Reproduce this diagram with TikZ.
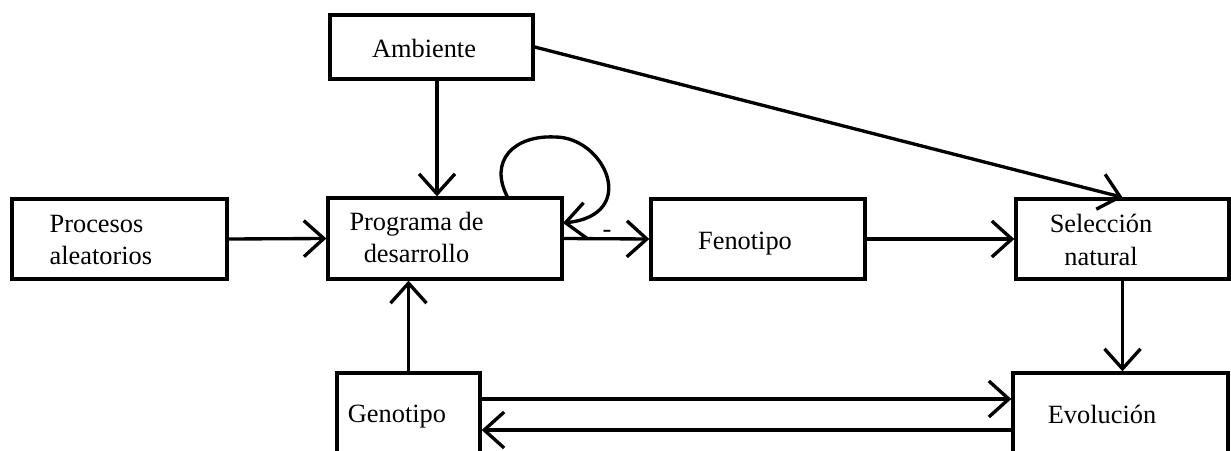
\documentclass[tikz,border=0pt]{standalone}
\usepackage{fontspec}
\setmainfont{Liberation Serif}
\usetikzlibrary{arrows.meta}
\begin{document}
\begin{tikzpicture}[line width=1.9pt,
    box/.style={draw, inner sep=0pt},
    txt/.style={font=\fontsize{15}{18.5}\selectfont, inner sep=0pt},
    arr/.style={-{Straight Barb[length=0.4cm,width=0.72cm]}}]
    \useasboundingbox (0,0) rectangle (24.62,9);
        \node[box, minimum width=4.06cm, minimum height=1.28cm] (amb) at (8.63,8.06) {};
        \node[box, minimum width=4.30cm, minimum height=1.60cm] (proc) at (2.39,4.22) {};
        \node[box, minimum width=4.68cm, minimum height=1.62cm] (prog) at (8.90,4.23) {};
        \node[box, minimum width=4.28cm, minimum height=1.60cm] (fen) at (15.16,4.22) {};
        \node[box, minimum width=4.26cm, minimum height=1.60cm] (sel) at (22.45,4.22) {};
        \node[box, minimum width=2.86cm, minimum height=1.68cm] (gen) at (8.17,0.70) {};
        \node[box, minimum width=4.30cm, minimum height=1.68cm] (evo) at (22.41,0.70) {};
        \node[txt] (t-amb) at (8.48,8.04) {Ambiente};
        \node[txt, anchor=west, align=left] (t-proc) at (0.96,4.20) {Procesos\\aleatorios};
        \node[txt, align=center] (t-prog) at (8.33,4.25) {Programa de\\desarrollo};
        \node[txt] (t-fen) at (14.90,4.12) {Fenotipo};
        \node[txt, align=center] (t-sel) at (22.02,4.20) {Selección\\natural};
        \node[txt] (t-gen) at (7.94,0.66) {Genotipo};
        \node[txt] (t-evo) at (22.04,0.72) {Evolución};
        \node[txt] (dash) at (12.14,4.32) {-};
        \draw[arr] ([xshift=0.11cm]amb.south) -- ([xshift=0.11cm]amb.south |- prog.north);
        \draw[arr] (amb.east) -- (sel.north);
        \draw[arr] (proc.east) -- (prog.west);
        \draw[arr] (prog.east) -- (fen.west);
        \draw[arr] (fen.east) -- (sel.west);
        \draw[arr] (sel.south) -- (sel.south |- evo.north);
        \draw[arr] (gen.north) -- (gen.north |- prog.south);
        \draw[arr] ([yshift=0.32cm]gen.east) -- ([yshift=0.32cm]gen.east -| evo.west);
        \draw[arr] ([yshift=-0.30cm]gen.east -| evo.west) -- ([yshift=-0.30cm]gen.east);
        \draw[arr] (10.16,5.04) .. controls (9.75,5.8) and (10.3,6.3) .. (11.1,6.26)
            .. controls (12.1,6.26) and (12.8,4.7) .. (11.26,4.54);
    \end{tikzpicture}
\end{document}
